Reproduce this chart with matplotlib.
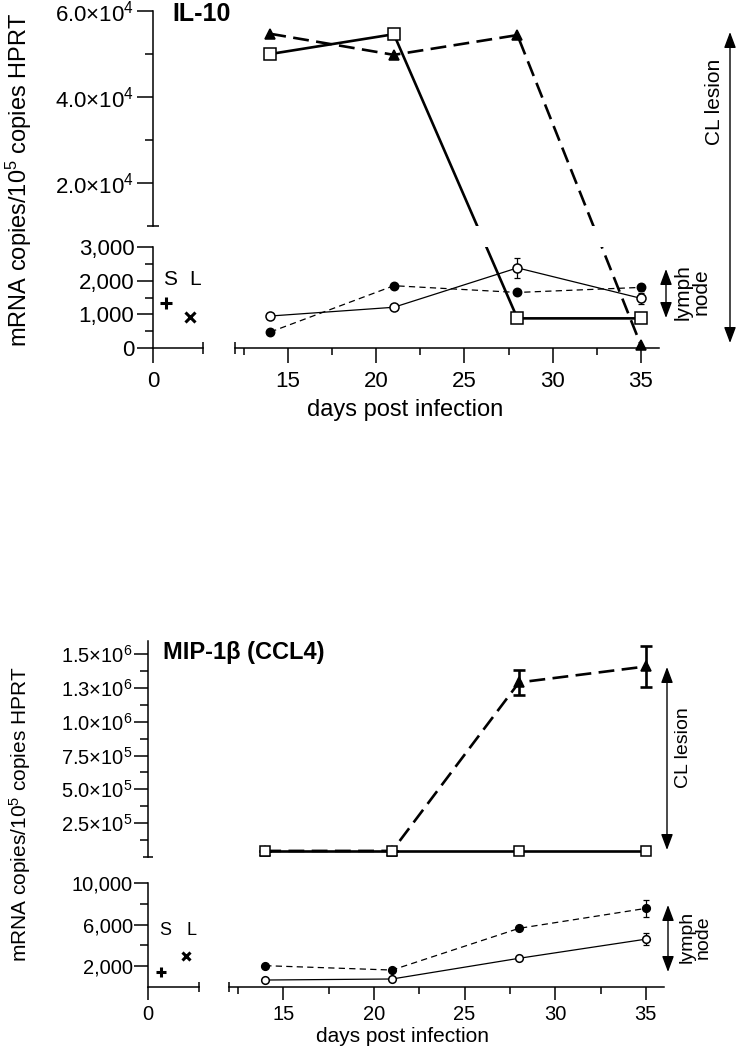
import matplotlib
matplotlib.use("Agg")
import matplotlib.pyplot as plt
from matplotlib.lines import Line2D
from matplotlib.patches import FancyArrowPatch
from matplotlib.transforms import IdentityTransform

plt.rcParams["font.family"] = ["Liberation Sans", "DejaVu Sans"]
plt.rcParams["mathtext.fontset"] = "custom"
plt.rcParams["mathtext.rm"] = "Liberation Sans"
plt.rcParams["mathtext.it"] = "Liberation Sans:italic"
plt.rcParams["mathtext.bf"] = "Liberation Sans:bold"

# --- data ---
days = [14, 21, 28, 35]
sl_names = ["S", "L"]
sl_x = [1.5, 4.5]
sl_text_x = [2.0, 5.1]

day_ticks = [15, 20, 25, 30, 35]
day_minor = [12.5, 17.5, 22.5, 27.5, 32.5]

# IL-10
il10_lesion_sq = [5.0e4, 5.46e4, 880, 880]
il10_lesion_tri = [5.47e4, 4.98e4, 5.44e4, 80]
il10_ln_open = [950, 1210, 2380, 1475]
il10_ln_open_err = [0, 80, 300, 170]
il10_ln_filled = [475, 1850, 1650, 1800]
il10_ln_filled_err = [0, 50, 0, 110]
il10_sl = [1350, 930]
il10_sl_text_y = 2020

il10_hi_ticks = [2e4, 4e4, 6e4]
il10_hi_labels = ["2.0×10$^{4}$", "4.0×10$^{4}$", "6.0×10$^{4}$"]
il10_hi_minor = [3e4, 5e4]
il10_lo_ticks = [0, 1000, 2000, 3000]
il10_lo_labels = ["0", "1,000", "2,000", "3,000"]
il10_lo_minor = [500, 1500, 2500]

# MIP-1beta
mip_lesion_sq = [4.5e4, 4.5e4, 4.5e4, 4.5e4]
mip_lesion_tri = [4.5e4, 4.5e4, 1.29e6, 1.408e6]
mip_lesion_tri_err = [0, 0, 0.092e6, 0.15e6]
mip_ln_filled = [2050, 1630, 5640, 7560]
mip_ln_filled_err = [0, 0, 0, 800]
mip_ln_open = [670, 770, 2760, 4600]
mip_ln_open_err = [0, 0, 0, 560]
mip_sl = [1440, 2980]
mip_sl_text_y = 5480

mip_hi_ticks = [2.5e5, 5e5, 7.5e5, 1e6, 1.25e6, 1.5e6]
mip_hi_labels = ["2.5×10$^{5}$", "5.0×10$^{5}$", "7.5×10$^{5}$",
                 "1.0×10$^{6}$", "1.3×10$^{6}$", "1.5×10$^{6}$"]
mip_hi_minor = [1.25e5, 3.75e5, 6.25e5, 8.75e5, 1.125e6, 1.375e6]
mip_lo_ticks = [2000, 6000, 10000]
mip_lo_labels = ["2,000", "6,000", "10,000"]
mip_lo_minor = [4000, 8000]

W, H = 736, 1049
fig = plt.figure(figsize=(W / 100, H / 100), dpi=100)


def fx(x):
    return x / W


def fy(y):
    return 1 - y / H


def add_box(x0, y0, x1, y1):
    return fig.add_axes([fx(x0), fy(y1), (x1 - x0) / W, (y1 - y0) / H])


def build_panel(g, hi_lim, lo_lim, fs, ticklen):
    maj, mnr, xmaj, xmnr, cap, pad_y, pad_x = ticklen
    sl_hi = add_box(g["xl"], g["yh0"], g["xs"], g["yh1"])
    sl_lo = add_box(g["xl"], g["yl0"], g["xs"], g["yl1"])
    m_hi = add_box(g["xm0"], g["yh0"], g["xm1"], g["yh1"])
    m_lo = add_box(g["xm0"], g["yl0"], g["xm1"], g["yl1"])
    for ax in (sl_hi, sl_lo, m_hi, m_lo):
        ax.patch.set_visible(False)
        for s in ax.spines.values():
            s.set_visible(False)
            s.set_linewidth(1.1)
    for ax in (sl_hi, sl_lo):
        ax.set_xlim(0, 6)
        ax.spines["left"].set_visible(True)
    for ax in (m_hi, m_lo):
        ax.set_xlim(12, 36)
        ax.set_yticks([])
    sl_hi.set_ylim(*hi_lim)
    m_hi.set_ylim(*hi_lim)
    sl_lo.set_ylim(*lo_lim)
    m_lo.set_ylim(*lo_lim)
    sl_hi.set_xticks([])
    m_hi.set_xticks([])

    sl_lo.spines["bottom"].set_visible(True)
    m_lo.spines["bottom"].set_visible(True)
    sl_lo.set_xticks([0])
    sl_lo.set_xticklabels(["0"])
    m_lo.set_xticks(day_ticks)
    m_lo.set_xticks(day_minor, minor=True)
    for ax in (sl_lo, m_lo):
        ax.tick_params(axis="x", which="major", direction="out", length=xmaj,
                       width=1.1, labelsize=fs, pad=pad_x)
        ax.tick_params(axis="x", which="minor", direction="out", length=xmnr, width=1.1)
    for ax in (sl_hi, sl_lo):
        ax.tick_params(axis="y", which="major", direction="out", length=maj,
                       width=1.1, labelsize=fs, pad=pad_y)
        ax.tick_params(axis="y", which="minor", direction="out", length=mnr, width=1.1)

    # end caps of the broken axes
    sl_hi.plot([0], [hi_lim[0]], marker="_", ms=cap, mew=1.1, color="k", clip_on=False)
    sl_lo.plot([6], [lo_lim[0]], marker="|", ms=cap, mew=1.1, color="k", clip_on=False)
    m_lo.plot([12], [lo_lim[0]], marker="|", ms=cap, mew=1.1, color="k", clip_on=False)
    return sl_hi, sl_lo, m_hi, m_lo


def broken_line(ax_hi, ax_lo, y, lw, ls):
    # the line runs straight on the page across the axis break,
    # and is hidden inside the gap between the two segments
    pts = []
    for d, v in zip(days, y):
        ax = ax_hi if v >= ax_hi.get_ylim()[0] else ax_lo
        pts.append(ax.transData.transform((d, v)))
    xs = [p[0] for p in pts]
    ys = [p[1] for p in pts]
    for ax in (ax_hi, ax_lo):
        ln = Line2D(xs, ys, transform=IdentityTransform(), color="k", lw=lw, ls=ls,
                    solid_capstyle="butt", dash_capstyle="butt", zorder=2)
        ln.set_clip_path(ax.patch)
        ax.add_artist(ln)


def plot_series(axes, y, err, marker, face, ms, lw, ls, capsize, elw, mew=1.1):
    if len(axes) == 2:
        broken_line(axes[0], axes[1], y, lw, ls)
    for ax in axes:
        if len(axes) == 1:
            ax.plot(days, y, color="k", lw=lw, ls=ls, zorder=2,
                    solid_capstyle="butt", dash_capstyle="butt")
        lo, hi = ax.get_ylim()
        pts = [(d, v, e) for d, v, e in zip(days, y, err) if lo <= v <= hi]
        if not pts:
            continue
        xs, vs, es = zip(*pts)
        if any(es):
            ax.errorbar(xs, vs, yerr=es, fmt="none", ecolor="k", elinewidth=elw,
                        capsize=capsize, capthick=elw, zorder=3)
        ax.plot(xs, vs, ls="none", marker=marker, ms=ms, mfc=face, mec="k",
                mew=mew, clip_on=False, zorder=4)


def vtext(x, y, s, fs, ls=1.2):
    fig.text(fx(x), fy(y), s, rotation=90, ha="center", va="center",
             fontsize=fs, linespacing=ls)


def varrow(x, y0, y1):
    fig.add_artist(FancyArrowPatch((fx(x), fy(y0)), (fx(x), fy(y1)),
                                   transform=fig.transFigure,
                                   arrowstyle="<|-|>,head_length=0.8,head_width=0.3",
                                   mutation_scale=12, lw=1.0, color="k",
                                   shrinkA=0, shrinkB=0))


thick_dash = (0, (6, 2.8))
thin_dash = (0, (5, 3.4))

# ---------------- IL-10 ----------------
g1 = dict(xl=153, xs=203, xm0=235, xm1=658.6, yh0=11, yh1=226, yl0=247, yl1=348)
a_sh, a_sl, a_mh, a_ml = build_panel(g1, (1e4, 6e4), (0, 3000), 16,
                                     (11.5, 5.8, 10.8, 5, 8, 2, 6))
a_sh.set_yticks(il10_hi_ticks)
a_sh.set_yticklabels(il10_hi_labels)
a_sh.set_yticks(il10_hi_minor, minor=True)
a_sl.set_yticks(il10_lo_ticks)
a_sl.set_yticklabels(il10_lo_labels)
a_sl.set_yticks(il10_lo_minor, minor=True)

plot_series([a_ml], il10_ln_filled, il10_ln_filled_err, "o", "k", 6, 0.9, thin_dash, 2.5, 0.9)
plot_series([a_ml], il10_ln_open, il10_ln_open_err, "o", "white", 6.5, 0.9, "-", 2.5, 0.9)
plot_series([a_mh, a_ml], il10_lesion_tri, [0] * 4, "^", "k", 7.5, 1.9, thick_dash, 4, 1.9)
plot_series([a_mh, a_ml], il10_lesion_sq, [0] * 4, "s", "white", 8, 1.9, "-", 4, 1.9)

a_sl.plot(sl_x[:1], il10_sl[:1], ls="none", marker="+", ms=8, mew=2.2, color="k", clip_on=False)
a_sl.plot(sl_x[1:], il10_sl[1:], ls="none", marker="x", ms=7, mew=2.2, color="k", clip_on=False)
for sx, name in zip(sl_text_x, sl_names):
    a_sl.text(sx, il10_sl_text_y, name, fontsize=15, ha="center", va="center")

fig.text(fx(172), fy(14), "IL-10", fontsize=18, fontweight="bold", ha="left", va="center")
vtext(19, 180, "mRNA copies/10$^{5}$ copies HPRT", 17)
fig.text(fx(405), fy(410), "days post infection", fontsize=17, ha="center", va="center")
varrow(730, 32, 343)
vtext(714, 102, "CL lesion", 15)
varrow(666, 269, 318)
vtext(692, 292, "lymph\nnode", 15, 0.95)

# ---------------- MIP-1beta ----------------
g2 = dict(xl=148, xs=199, xm0=229, xm1=664, yh0=640.5, yh1=857, yl0=883, yl1=987)
b_sh, b_sl, b_mh, b_ml = build_panel(g2, (0, 1.6e6), (0, 10000), 14.5,
                                     (10, 5.5, 9.5, 4.8, 7, 1, 3.5))
b_sh.set_yticks(mip_hi_ticks)
b_sh.set_yticklabels(mip_hi_labels)
b_sh.set_yticks(mip_hi_minor, minor=True)
b_sl.set_yticks(mip_lo_ticks)
b_sl.set_yticklabels(mip_lo_labels)
b_sl.set_yticks(mip_lo_minor, minor=True)

plot_series([b_ml], mip_ln_filled, mip_ln_filled_err, "o", "k", 5.5, 0.9, thin_dash, 2.5, 0.9)
plot_series([b_ml], mip_ln_open, mip_ln_open_err, "o", "white", 5.5, 0.9, "-", 2.5, 0.9)
plot_series([b_mh], mip_lesion_tri, mip_lesion_tri_err, "^", "k", 7, 1.9, thick_dash, 4.3, 1.9)
plot_series([b_mh], mip_lesion_sq, [0] * 4, "s", "white", 7.5, 1.9, "-", 4, 1.9)

b_sl.plot(sl_x[:1], mip_sl[:1], ls="none", marker="+", ms=7, mew=2.2, color="k", clip_on=False)
b_sl.plot(sl_x[1:], mip_sl[1:], ls="none", marker="x", ms=6, mew=2.2, color="k", clip_on=False)
for sx, name in zip(sl_text_x, sl_names):
    b_sl.text(sx, mip_sl_text_y, name, fontsize=13, ha="center", va="center")

fig.text(fx(163), fy(653), "MIP-1\u03b2 (CCL4)", fontsize=17, fontweight="bold",
         ha="left", va="center")
vtext(20, 814, "mRNA copies/10$^{5}$ copies HPRT", 15)
fig.text(fx(402), fy(1037), "days post infection", fontsize=15, ha="center", va="center")
varrow(667, 667, 850)
vtext(684, 748, "CL lesion", 14)
varrow(668, 905, 972)
vtext(695, 937, "lymph\nnode", 14, 0.95)

fig.savefig("out.png", dpi=100)
